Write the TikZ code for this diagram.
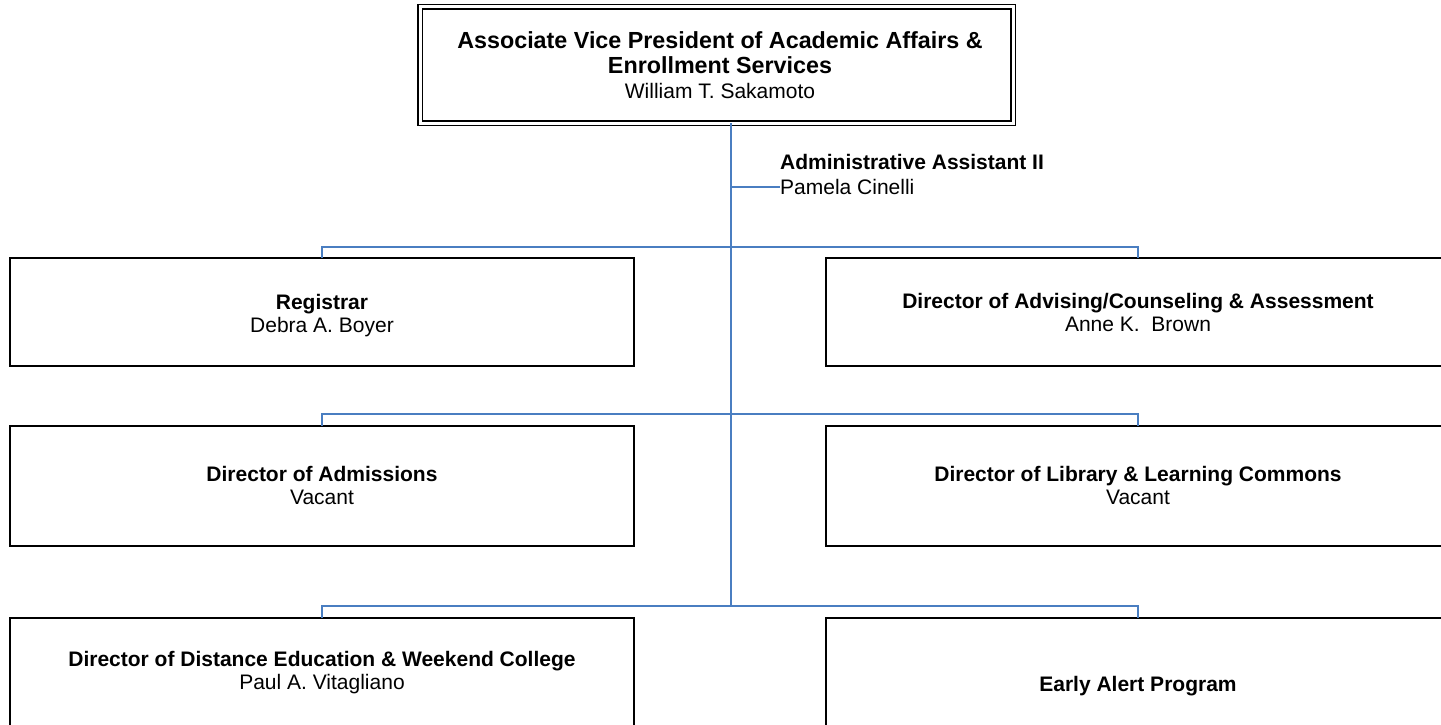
\documentclass[tikz,border=0pt]{standalone}
\usepackage{fontspec}
\setmainfont{Liberation Sans}
\definecolor{connblue}{RGB}{74,126,193}
\begin{document}
\begin{tikzpicture}[x=1pt,y=-1pt,
  box/.style={draw=black, line width=1.6pt, fill=white, inner sep=0pt, outer sep=0pt, rectangle},
  topbox/.style={draw=black, line width=1.3pt, double=white, double distance=3pt, inner sep=0pt, outer sep=0pt, rectangle},
  conn/.style={draw=connblue, line width=1.8pt},
  txt/.style={align=center, inner sep=0pt, font=\fontsize{21}{23}\selectfont},
  ttl/.style={align=center, inner sep=0pt, font=\fontsize{23.3}{25}\selectfont}]
\useasboundingbox (0,0) rectangle (1441,725);
\clip (0,0) rectangle (1441,725);
\fill[white] (0,0) rectangle (1441,725);

% top box
\node[topbox, minimum width=593pt, minimum height=116pt] (top) at (716.5,65) {};
\node[ttl] (toptxt) at (720,65) {\textbf{Associate Vice President of Academic Affairs \&}\\\textbf{Enrollment Services}\\{\fontsize{21}{23}\selectfont William T. Sakamoto}};

% boxes
\node[box, minimum width=624pt, minimum height=108pt] (reg) at (322,312) {};
\node[box, minimum width=624pt, minimum height=108pt] (adv) at (1138,312) {};
\node[box, minimum width=624pt, minimum height=120pt] (adm) at (322,486) {};
\node[box, minimum width=624pt, minimum height=120pt] (lib) at (1138,486) {};
\node[box, minimum width=624pt, minimum height=140pt] (dist) at (322,688) {};
\node[box, minimum width=624pt, minimum height=140pt] (eap) at (1138,688) {};

% texts
\node[txt] (regtxt) at (322,315.5) {\textbf{Registrar}\\Debra A. Boyer};
\node[txt] (advtxt) at (1138,312.5) {\textbf{Director of Advising/Counseling \& Assessment}\\Anne K.\ \ Brown};
\node[txt] (admtxt) at (322,485) {\textbf{Director of Admissions}\\Vacant};
\node[txt] (libtxt) at (1138,485) {\textbf{Director of Library \& Learning Commons}\\Vacant};
\node[txt] (disttxt) at (322,673) {\textbf{Director of Distance Education \& Weekend College}\\Paul A. Vitagliano};
\node[txt] (eaptxt) at (1138,686) {\textbf{Early Alert Program}};

% admin assistant
\node[txt, align=left, anchor=west, font=\fontsize{21}{25}\selectfont] (aa) at (780,174) {\textbf{Administrative Assistant II}\\Pamela Cinelli};

% connectors
\coordinate (jaa) at (731,187);
\coordinate (j1) at (731,247);
\coordinate (j2) at (731,414);
\coordinate (j3) at (731,606);
\draw[conn] (top.south -| j3) -- (j3);
\draw[conn] (jaa) -- (jaa -| aa.west);
\draw[conn] (reg.north) -- (reg.north |- j1) -| (adv.north);
\draw[conn] (adm.north) -- (adm.north |- j2) -| (lib.north);
\draw[conn] (dist.north) -- (dist.north |- j3) -| (eap.north);
\end{tikzpicture}
\end{document}
